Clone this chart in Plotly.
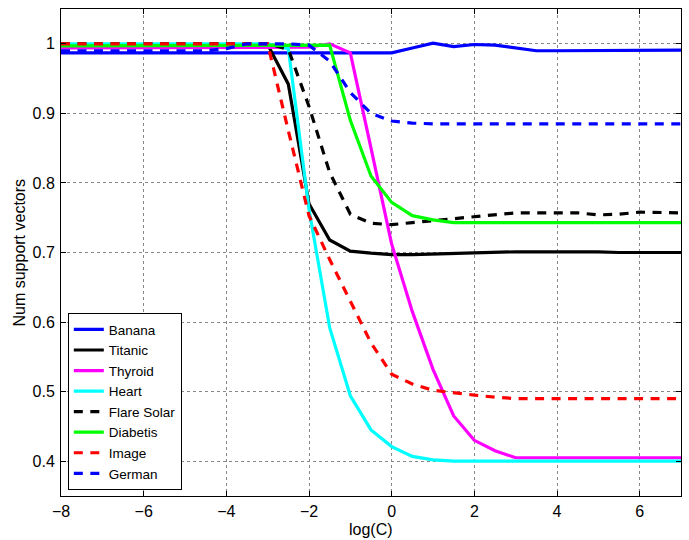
import plotly.graph_objects as go

log_c = [-8, -7.5, -7, -6.5, -6, -5.5, -5, -4.5, -4, -3.5, -3, -2.5, -2, -1.5, -1, -0.5,
         0, 0.5, 1, 1.5, 2, 2.5, 3, 3.5, 4, 4.5, 5, 5.5, 6, 6.5, 7]

banana = [0.987, 0.987, 0.987, 0.987, 0.987, 0.987, 0.987, 0.987, 0.987, 0.987, 0.987,
          0.987, 0.987, 0.987, 0.987, 0.987, 0.987, 0.994, 1.001, 0.996, 0.999, 0.998,
          0.994, 0.990, 0.990, 0.990, 0.990, 0.991, 0.991, 0.991, 0.991]
titanic = [0.999, 0.999, 0.999, 0.999, 0.999, 0.999, 0.999, 0.999, 0.999, 0.999, 0.999,
           0.942, 0.770, 0.718, 0.702, 0.699, 0.697, 0.697, 0.698, 0.699, 0.700, 0.700,
           0.701, 0.701, 0.701, 0.702, 0.701, 0.700, 0.700, 0.700, 0.700]
thyroid = [0.994, 0.994, 0.994, 0.994, 0.994, 0.994, 0.994, 0.994, 0.994, 0.994, 0.994,
           0.994, 0.995, 1.000, 0.987, 0.850, 0.712, 0.615, 0.532, 0.465, 0.430, 0.415,
           0.405, 0.405, 0.405, 0.405, 0.405, 0.405, 0.405, 0.405, 0.405]
heart = [1.000, 1.000, 1.000, 1.000, 1.000, 1.000, 1.000, 1.000, 1.000, 1.000, 1.000,
         0.993, 0.762, 0.592, 0.494, 0.445, 0.421, 0.407, 0.402, 0.400, 0.400, 0.400,
         0.400, 0.400, 0.400, 0.400, 0.400, 0.400, 0.400, 0.400, 0.400]
flare_solar = [1.000, 1.000, 1.000, 1.000, 1.000, 1.000, 1.000, 1.000, 1.000, 1.000, 1.000,
               0.992, 0.910, 0.815, 0.755, 0.742, 0.740, 0.743, 0.746, 0.748, 0.752, 0.755,
               0.757, 0.757, 0.757, 0.757, 0.754, 0.755, 0.758, 0.757, 0.757]
diabetis = [0.997, 0.997, 0.997, 0.997, 0.997, 0.997, 0.997, 0.997, 0.997, 0.997, 0.997,
            0.997, 0.997, 0.998, 0.890, 0.810, 0.772, 0.753, 0.747, 0.743, 0.743, 0.743,
            0.743, 0.743, 0.743, 0.743, 0.743, 0.743, 0.743, 0.743, 0.743]
image = [1.000, 1.000, 1.000, 1.000, 1.000, 1.000, 1.000, 1.000, 1.000, 1.000, 1.000,
         0.875, 0.753, 0.690, 0.630, 0.570, 0.525, 0.511, 0.502, 0.498, 0.495, 0.492,
         0.490, 0.490, 0.490, 0.490, 0.490, 0.490, 0.490, 0.490, 0.490]
german = [0.990, 0.990, 0.990, 0.990, 0.990, 0.990, 0.990, 0.990, 0.993, 1.000, 1.000,
          1.000, 0.998, 0.975, 0.930, 0.900, 0.889, 0.886, 0.885, 0.885, 0.885, 0.885,
          0.885, 0.885, 0.885, 0.885, 0.885, 0.885, 0.885, 0.885, 0.885]

series = [
    ("Banana", banana, "#0000FF", "solid"),
    ("Titanic", titanic, "#000000", "solid"),
    ("Thyroid", thyroid, "#FF00FF", "solid"),
    ("Heart", heart, "#00FFFF", "solid"),
    ("Flare Solar", flare_solar, "#000000", "9px,7.5px"),
    ("Diabetis", diabetis, "#00FF00", "solid"),
    ("Image", image, "#FF0000", "9px,7.5px"),
    ("German", german, "#0000FF", "9px,7.5px"),
]

x_ticks = [-8, -6, -4, -2, 0, 2, 4, 6]
x_tick_text = ["\u22128", "\u22126", "\u22124", "\u22122", "0", "2", "4", "6"]
y_ticks = [0.4, 0.5, 0.6, 0.7, 0.8, 0.9, 1.0]
y_tick_text = ["0.4", "0.5", "0.6", "0.7", "0.8", "0.9", "1"]
x_title = "log(C)"
y_title = "Num support vectors"

fig = go.Figure()
for name, vals, color, dash in series:
    fig.add_trace(go.Scatter(x=log_c, y=vals, mode="lines", name=name,
                             line=dict(color=color, width=3.2, dash=dash)))

font = dict(family="Liberation Sans, Arial, sans-serif", size=16, color="black")
fig.update_layout(
    width=689, height=540,
    margin=dict(l=61, r=8, t=9, b=44, autoexpand=False),
    paper_bgcolor="white", plot_bgcolor="white",
    font=font,
    showlegend=True,
    legend=dict(x=0.011, y=0.012, xanchor="left", yanchor="bottom",
                bgcolor="white", bordercolor="black", borderwidth=1,
                font=dict(family="Liberation Sans, Arial, sans-serif", size=13.5, color="black"),
                tracegroupgap=0),
    annotations=[
        dict(text=x_title, xref="paper", yref="paper", x=0.5, y=-0.0698,
             xanchor="center", yanchor="middle", showarrow=False, font=font),
        dict(text=y_title, xref="paper", yref="paper", x=-0.0677, y=0.5,
             xanchor="center", yanchor="middle", textangle=-90, showarrow=False, font=font),
    ],
)
fig.update_xaxes(range=[-8, 7], tickvals=x_ticks, ticktext=x_tick_text,
                 ticks="inside", ticklen=5, tickcolor="black", mirror="ticks",
                 showline=True, linecolor="black", linewidth=1,
                 showgrid=True, gridcolor="#888888", griddash="dot", gridwidth=1,
                 zeroline=False, ticklabelstandoff=1, automargin=False)
fig.update_yaxes(range=[0.35, 1.05], tickvals=y_ticks, ticktext=y_tick_text,
                 ticks="inside", ticklen=5, tickcolor="black", mirror="ticks",
                 showline=True, linecolor="black", linewidth=1,
                 showgrid=True, gridcolor="#888888", griddash="dot", gridwidth=1,
                 zeroline=False, ticklabelstandoff=2, automargin=False)

fig.write_html("out.html")
